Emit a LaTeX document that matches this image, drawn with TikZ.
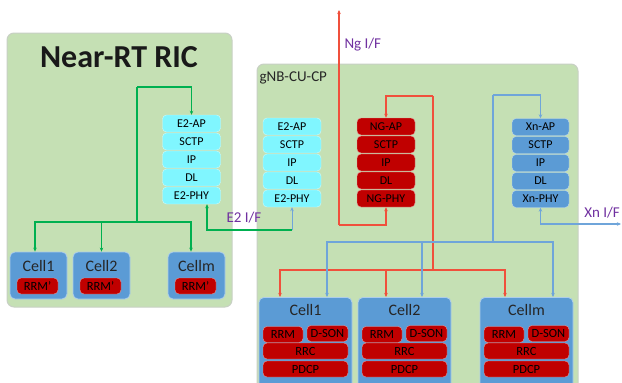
\documentclass[tikz,border=0pt]{standalone}
\usepackage{fontspec}
\setmainfont{Carlito}
\usetikzlibrary{arrows.meta}
\definecolor{pgreen}{HTML}{C5E0B4}
\definecolor{pborder}{HTML}{C8D0C4}
\definecolor{cyanl}{HTML}{80F6FF}
\definecolor{cellblue}{HTML}{5B9BD5}
\definecolor{dred}{HTML}{C00000}
\definecolor{glinec}{HTML}{00B050}
\definecolor{rlinec}{HTML}{F0503C}
\definecolor{blinec}{HTML}{6FA5DA}
\definecolor{purp}{HTML}{7030A0}
\tikzset{
  panel/.style={draw=pborder, line width=1pt, fill=pgreen, rounded corners=7pt},
  layer/.style={rectangle, rounded corners=4pt, minimum width=#1, minimum height=17pt, inner sep=0pt, text=black, font=\fontsize{12}{12}\selectfont},
  e2layer/.style={layer=58pt, fill=cyanl, draw=white!60!cyanl},
  nglayer/.style={layer=58pt, fill=dred, draw=white!60!dred},
  xnlayer/.style={layer=57pt, fill=cellblue, draw=white!60!cellblue},
  redbox/.style={layer=#1, fill=dred, draw=white!60!dred, minimum height=16pt, font=\fontsize{12.5}{12.5}\selectfont},
  cellbox/.style={rectangle, rounded corners=5pt, fill=cellblue, draw=white!50!cellblue, line width=0.8pt},
  celltitle/.style={font=\fontsize{16}{16}\selectfont, text=black!85},
  arr/.style={-{Stealth[length=4pt,width=3.5pt]}},
  gl/.style={draw=glinec, line width=1.1pt},
  rl/.style={draw=rlinec, line width=1.2pt},
  bl/.style={draw=blinec, line width=1.1pt},
  iflabel/.style={text=purp, font=\fontsize{15}{15}\selectfont}
}
\begin{document}
\begin{tikzpicture}[x=1pt,y=-1pt]
\useasboundingbox (0,0) rectangle (622,383);
\fill[white] (0,0) rectangle (622,383);
% panels
\draw[panel] (7,33) rectangle (232,307);
\draw[panel] (257,64) rectangle (578,400);
\node[font=\fontsize{32}{32}\bfseries\selectfont, text=black!90] (ric) at (119,57) {Near-RT RIC};
\node[font=\fontsize{15}{15}\selectfont, text=black!85, anchor=west] (cucp) at (256,78) {gNB-CU-CP};
% left E2 stack
\node[e2layer] (le1) at (191.5,123.5) {E2-AP};
\node[e2layer] (le2) at (191.5,141.5) {SCTP};
\node[e2layer] (le3) at (191.5,159.5) {IP};
\node[e2layer] (le4) at (191.5,177.5) {DL};
\node[e2layer] (le5) at (191.5,195.5) {E2-PHY};
% right E2 stack
\node[e2layer] (re1) at (292,126.5) {E2-AP};
\node[e2layer] (re2) at (292,144.5) {SCTP};
\node[e2layer] (re3) at (292,162.5) {IP};
\node[e2layer] (re4) at (292,180.5) {DL};
\node[e2layer] (re5) at (292,198.5) {E2-PHY};
% NG stack
\node[nglayer] (ng1) at (386,126.5) {NG-AP};
\node[nglayer] (ng2) at (386,144.5) {SCTP};
\node[nglayer] (ng3) at (386,162.5) {IP};
\node[nglayer] (ng4) at (386,180.5) {DL};
\node[nglayer] (ng5) at (386,198.5) {NG-PHY};
% Xn stack
\node[xnlayer] (xn1) at (540.5,127) {Xn-AP};
\node[xnlayer] (xn2) at (540.5,145) {SCTP};
\node[xnlayer] (xn3) at (540.5,163) {IP};
\node[xnlayer] (xn4) at (540.5,181) {DL};
\node[xnlayer] (xn5) at (540.5,199) {Xn-PHY};
% left cells
\node[cellbox, minimum width=57pt, minimum height=47pt] (lc1) at (38.5,275.5) {};
\node[cellbox, minimum width=57pt, minimum height=47pt] (lc2) at (101.5,275.5) {};
\node[cellbox, minimum width=57pt, minimum height=47pt] (lc3) at (196.5,275.5) {};
\node[celltitle] (lt1) at (38.5,266) {Cell1};
\node[celltitle] (lt2) at (101.5,266) {Cell2};
\node[celltitle] (lt3) at (196.5,266) {Cellm};
\node[redbox=41pt] (lr1) at (37.5,286) {RRM'};
\node[redbox=41pt] (lr2) at (100.5,286) {RRM'};
\node[redbox=41pt] (lr3) at (195.5,286) {RRM'};
% right cells
\foreach \n/\x/\t in {1/305.5/Cell1, 2/404.5/Cell2, 3/526.5/Cellm}{
  \node[cellbox, minimum width=93pt, minimum height=100pt, anchor=north] (rc\n) at (\x,297) {};
  \node[celltitle] (rt\n) at (\x,310) {\t};
  \node[redbox=40pt] (rrm\n) at (\x-22.5,334.5) {RRM};
  \node[redbox=41pt] (dson\n) at (\x+22,333.5) {D-SON};
  \node[redbox=85pt] (rrc\n) at (\x,351) {RRC};
  \node[redbox=85pt] (pdcp\n) at (\x,369) {PDCP};
}
% green E2 tree (Near-RT RIC)
\coordinate (gT) at (137,87);
\coordinate (gB) at (137,222);
\draw[gl, arr] (gT) -| (le1.north);
\draw[gl] (gT) -- (gB);
\draw[gl, arr] (gB) -| ([xshift=-3.5pt]lc1.north);
\draw[gl, arr] (gB) -| (lc2.north);
\draw[gl, arr] (gB) -| ([xshift=-5.5pt]lc3.north);
% E2 I/F
\coordinate (e2c) at (292,230);
\draw[gl, arr] (e2c) -| ([xshift=15.5pt]le5.south);
\draw[bl, line width=0.8pt, arr] (e2c) -- (re5.south);
\node[iflabel] (e2lab) at (244,218) {E2 I/F};
% Ng I/F
\coordinate (ngTop) at (339,10);
\coordinate (ngB) at (339,225);
\draw[rl, arr] (ngB) -- (ngTop);
\draw[rl, arr] (ngB) -| (ng5.south);
\node[iflabel, anchor=west] (nglab) at (341,45) {Ng I/F};
% red tree
\coordinate (rT) at (433,96);
\coordinate (rB) at (433,270);
\draw[rl, arr] (rT) -| (ng1.north);
\draw[rl] (rT) -- (rB);
\draw[rl, arr] (rB) -| ([xshift=-25.5pt]rc1.north);
\draw[rl, arr] (rB) -| ([xshift=-18.5pt]rc2.north);
\draw[rl, arr] (rB) -| ([xshift=-21.5pt]rc3.north);
% blue Xn tree
\coordinate (bT) at (493,95);
\coordinate (bB) at (493,242);
\draw[bl, arr] (bT) -| (xn1.north);
\draw[bl] (bT) -- (bB);
\draw[bl, arr] (bB) -| ([xshift=21.5pt]rc1.north);
\draw[bl, arr] (bB) -| ([xshift=17.5pt]rc2.north);
\draw[bl, arr] (bB) -| ([xshift=26.5pt]rc3.north);
% Xn I/F
\coordinate (xnR) at (621,224);
\draw[bl, {Stealth[length=4pt,width=3.5pt]}-{Stealth[length=4pt,width=3.5pt]}] (xn5.south) |- (xnR);
\node[iflabel, anchor=east, inner sep=1pt] (xnlab) at (621,213) {Xn I/F};
\end{tikzpicture}
\end{document}
